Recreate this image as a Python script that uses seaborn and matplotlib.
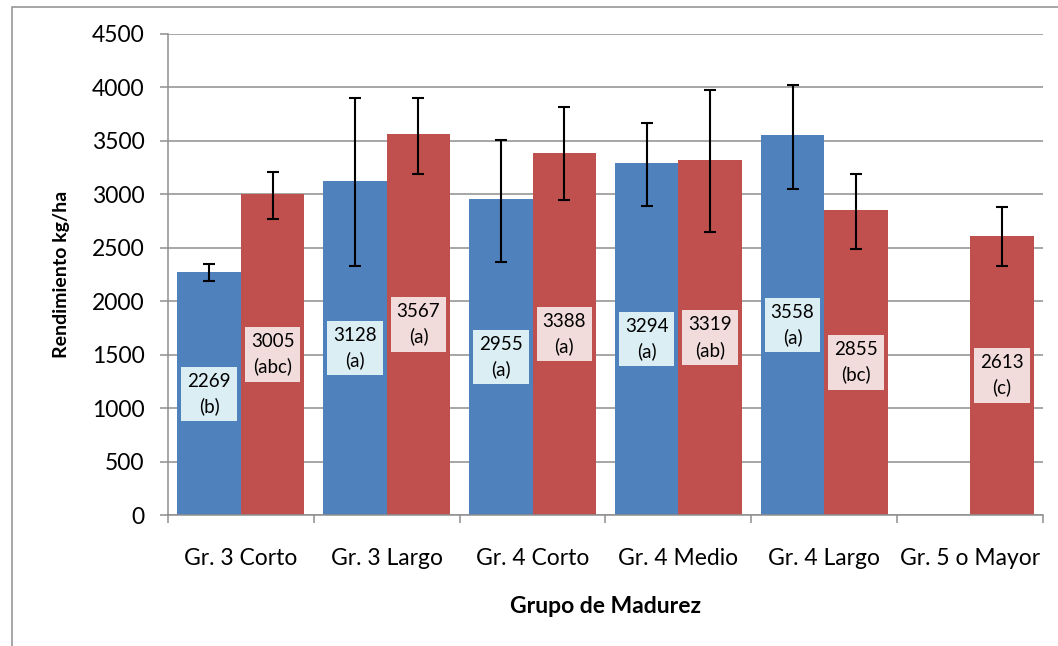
import numpy as np
import pandas as pd
import matplotlib
matplotlib.use('Agg')
import matplotlib.pyplot as plt
import seaborn as sns
from matplotlib.patches import Rectangle

# datos
grupos = ['Gr. 3 Corto', 'Gr. 3 Largo', 'Gr. 4 Corto', 'Gr. 4 Medio', 'Gr. 4 Largo', 'Gr. 5 o Mayor']
series = ['Serie 1', 'Serie 2']
rend_s1 = [2269, 3128, 2955, 3294, 3558, np.nan]
rend_s2 = [3005, 3567, 3388, 3319, 2855, 2613]
letras_s1 = ['b', 'a', 'a', 'a', 'a', None]
letras_s2 = ['abc', 'a', 'a', 'ab', 'bc', 'c']
inf_s1 = [2190, 2330, 2364, 2891, 3053, np.nan]
sup_s1 = [2345, 3900, 3511, 3671, 4023, np.nan]
inf_s2 = [2769, 3193, 2947, 2645, 2486, 2327]
sup_s2 = [3209, 3900, 3814, 3973, 3193, 2879]

colores = ['#4F81BD', '#C0504D']
fondos = ['#DBEEF4', '#F2DCDB']
gris = '#8E8E8E'


def main():
    filas = []
    for s, rend, letras, inf, sup in [(series[0], rend_s1, letras_s1, inf_s1, sup_s1),
                                      (series[1], rend_s2, letras_s2, inf_s2, sup_s2)]:
        for g, v, l, lo, hi in zip(grupos, rend, letras, inf, sup):
            filas.append({'grupo': g, 'serie': s, 'rend': v, 'letra': l, 'inf': lo, 'sup': hi})
    df = pd.DataFrame(filas).dropna(subset=['rend'])
    tabla = df.set_index(['grupo', 'serie'])

    sns.set_theme(style='white')
    plt.rcParams['font.family'] = ['Lato', 'DejaVu Sans']

    fig = plt.figure(figsize=(10.58, 6.46), dpi=100)
    ax = fig.add_axes([168 / 1058, 1 - 515 / 646, 875 / 1058, 481 / 646])

    sns.barplot(data=df, x='grupo', y='rend', hue='serie', order=grupos, hue_order=series,
                palette=colores, width=0.87, gap=0, errorbar=None, saturation=1,
                linewidth=0, legend=False, ax=ax)

    # barras de error y etiquetas (serie según el lado de la barra)
    for bar in list(ax.patches):
        if bar.get_height() <= 0:
            continue
        xc = bar.get_x() + bar.get_width() / 2
        k = int(round(xc))
        i = 0 if xc < k else 1
        clave = (grupos[k], series[i])
        if clave not in tabla.index:
            continue
        fila = tabla.loc[clave]
        v = fila['rend']
        ax.errorbar(xc, v, yerr=[[v - fila['inf']], [fila['sup'] - v]], fmt='none',
                    ecolor='black', elinewidth=1.5, capsize=4, capthick=1.5, zorder=4)
        ax.text(xc, v / 2, f"{int(v)}\n({fila['letra']})", ha='center', va='center',
                fontsize=13.5, color='black', zorder=5, linespacing=1.5,
                bbox=dict(boxstyle='square,pad=0.32', fc=fondos[i], ec='none'))

    ax.set_xlim(-0.5, 5.5)
    ax.set_ylim(0, 4500)
    ax.set_yticks(range(0, 4501, 500))
    ax.set_xticks(range(len(grupos)))
    ax.set_xticklabels(grupos)
    ax.set_xticks(np.arange(-0.5, 6, 1), minor=True)
    ax.tick_params(axis='x', which='major', length=0, pad=24, labelsize=16.5, labelcolor='black')
    ax.tick_params(axis='x', which='minor', length=5.5, width=1.1, color=gris, direction='out', bottom=True)
    ax.tick_params(axis='y', length=6, width=1.1, color=gris, direction='out', pad=11,
                   labelsize=16.5, labelcolor='black', left=True)

    ax.yaxis.grid(True, color=gris, linewidth=1.1)
    ax.set_axisbelow(True)
    for lado in ['top', 'right']:
        ax.spines[lado].set_visible(False)
    for lado in ['left', 'bottom']:
        ax.spines[lado].set_color(gris)
        ax.spines[lado].set_linewidth(1.1)

    ax.set_xlabel('Grupo de Madurez', fontsize=16.5, fontweight='bold', color='black')
    ax.set_ylabel('Rendimiento kg/ha', fontsize=14, fontweight='bold', color='black')
    ax.xaxis.set_label_coords(0.5, -0.168)
    ax.yaxis.set_label_coords(-0.112, 0.5)

    # marco del gráfico
    fig.patches.append(Rectangle((12 / 1058, -0.1), 1.1, 1 - 7 / 646 + 0.1, transform=fig.transFigure,
                                 fill=False, ec=gris, lw=1.1))

    fig.savefig('out.png', dpi=100)
    plt.close(fig)


if __name__ == '__main__':
    main()
